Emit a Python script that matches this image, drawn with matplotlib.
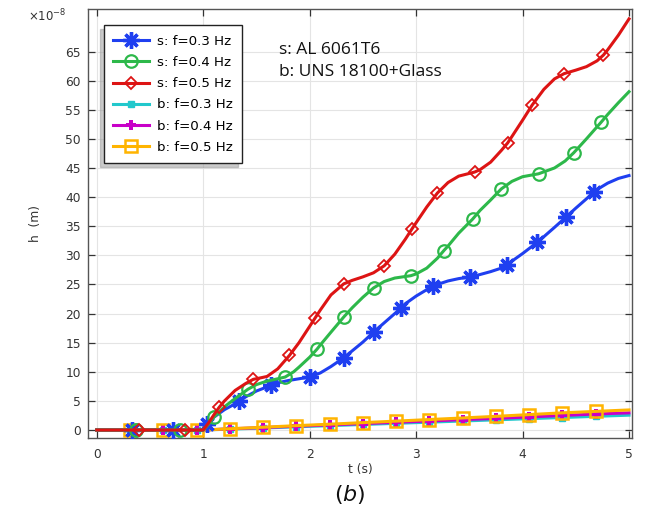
import numpy as np
import matplotlib
matplotlib.use("Agg")
import matplotlib.pyplot as plt

# ---------------- data (h in units of 1e-8 m) ----------------
t_s03 = [0, 0.33, 0.72, 1.0, 1.04, 1.1, 1.2, 1.3, 1.34, 1.4, 1.5, 1.6, 1.64, 1.7, 1.8, 1.9,
         2.0, 2.1, 2.2, 2.32, 2.4, 2.5, 2.6, 2.7, 2.8, 2.86, 2.9, 3.0, 3.1, 3.16, 3.2, 3.3,
         3.4, 3.51, 3.6, 3.7, 3.8, 3.85, 3.9, 4.0, 4.1, 4.14, 4.2, 4.3, 4.41, 4.5, 4.6,
         4.67, 4.7, 4.8, 4.9, 5.0]
h_s03 = [0, 0, 0, 0, 1.0, 2.2, 3.5, 4.5, 5.0, 5.7, 6.7, 7.4, 7.7, 8.1, 8.5, 8.8,
         9.1, 9.8, 10.9, 12.4, 13.6, 15.1, 16.8, 18.4, 20.0, 21.0, 21.7, 23.0, 24.1, 24.7, 25.0, 25.6,
         26.0, 26.3, 26.7, 27.2, 27.8, 28.3, 29.0, 30.3, 31.7, 32.3, 33.2, 34.8, 36.6, 38.1, 39.7,
         40.9, 41.3, 42.4, 43.2, 43.7]
m_s03 = [0.33, 0.72, 1.04, 1.34, 1.64, 2.0, 2.32, 2.6, 2.86, 3.16, 3.51, 3.85, 4.14, 4.41, 4.67]

t_s04 = [0, 0.37, 0.78, 1.0, 1.05, 1.1, 1.2, 1.3, 1.42, 1.5, 1.6, 1.7, 1.77, 1.85, 1.9,
         2.0, 2.07, 2.1, 2.2, 2.32, 2.4, 2.5, 2.6, 2.7, 2.8, 2.95, 3.0, 3.1, 3.2, 3.26, 3.3,
         3.4, 3.53, 3.6, 3.7, 3.8, 3.9, 4.0, 4.15, 4.3, 4.4, 4.48, 4.6, 4.74, 4.8, 4.9, 5.0]
h_s04 = [0, 0, 0, 0, 1.0, 2.2, 4.0, 5.4, 7.0, 7.8, 8.4, 8.8, 9.1, 10.0, 10.8,
         12.5, 13.9, 14.6, 16.8, 19.4, 21.0, 22.8, 24.4, 25.5, 26.1, 26.5, 26.8, 27.8, 29.5, 30.8, 31.6,
         33.8, 36.2, 37.7, 39.5, 41.4, 42.7, 43.5, 44.0, 45.0, 46.2, 47.6, 50.0, 52.9, 54.2, 56.2, 58.1]
m_s04 = [0.37, 0.78, 1.1, 1.42, 1.77, 2.07, 2.32, 2.6, 2.95, 3.26, 3.53, 3.8, 4.15, 4.48, 4.74]

t_s05 = [0, 0.4, 0.83, 1.0, 1.05, 1.1, 1.15, 1.2, 1.3, 1.4, 1.47, 1.55, 1.6, 1.7, 1.81, 1.9,
         2.0, 2.05, 2.1, 2.2, 2.32, 2.4, 2.5, 2.6, 2.7, 2.8, 2.9, 2.96, 3.0, 3.1, 3.2, 3.3,
         3.4, 3.55, 3.6, 3.7, 3.8, 3.86, 3.9, 4.0, 4.09, 4.2, 4.3, 4.39, 4.5, 4.6, 4.7,
         4.76, 4.8, 4.9, 5.0]
h_s05 = [0, 0, 0, 0, 1.2, 2.6, 3.9, 5.0, 6.8, 8.0, 8.7, 9.0, 9.2, 10.5, 12.8, 15.0,
         17.8, 19.2, 20.6, 23.2, 25.1, 25.7, 26.3, 27.0, 28.2, 30.2, 32.8, 34.5, 35.6, 38.3, 40.7, 42.5,
         43.6, 44.3, 44.7, 46.0, 48.0, 49.3, 50.4, 53.2, 55.8, 58.5, 60.3, 61.2, 61.8, 62.4, 63.4,
         64.4, 65.3, 67.8, 70.6]
m_s05 = [0.4, 0.83, 1.15, 1.47, 1.81, 2.05, 2.32, 2.7, 2.96, 3.2, 3.55, 3.86, 4.09, 4.39, 4.76]

t_b = [0, 0.3125, 0.625, 0.9375, 1.0, 1.25, 1.5625, 1.875, 2.1875, 2.5, 2.8125, 3.125,
       3.4375, 3.75, 4.0625, 4.375, 4.6875, 5.0]
m_b = [0.3125, 0.625, 0.9375, 1.25, 1.5625, 1.875, 2.1875, 2.5, 2.8125, 3.125,
       3.4375, 3.75, 4.0625, 4.375, 4.6875]
h_b03 = [0, 0, 0, 0, 0, 0.15, 0.35, 0.55, 0.75, 0.95, 1.15, 1.35, 1.55, 1.75, 1.95, 2.15, 2.35, 2.55]
h_b04 = [0, 0, 0, 0, 0, 0.2, 0.42, 0.65, 0.88, 1.1, 1.33, 1.55, 1.78, 2.0, 2.25, 2.5, 2.75, 2.95]
h_b05 = [0, 0, 0, 0, 0, 0.22, 0.48, 0.75, 1.0, 1.27, 1.53, 1.8, 2.07, 2.35, 2.65, 2.95, 3.2, 3.45]

labels = ["s: f=0.3 Hz", "s: f=0.4 Hz", "s: f=0.5 Hz",
          "b: f=0.3 Hz", "b: f=0.4 Hz", "b: f=0.5 Hz"]
x_ticks = [0, 1, 2, 3, 4, 5]
y_ticks = list(range(0, 70, 5))

# ---------------- figure ----------------
plt.rcParams['mathtext.fontset'] = 'dejavusans'
fig = plt.figure(figsize=(6.45, 5.12), dpi=100)
ax = fig.add_axes([88/645, 1-438/512, (632-88)/645, (438-9)/512])

def idx(t, m):
    return [i for i, v in enumerate(t) if any(abs(v - mm) < 1e-9 for mm in m)]

blue, green, red = '#1f3ff0', '#2db84a', '#dd1414'
cyan, magenta, yellow = '#22c8cc', '#c800c8', '#ffb400'

ax.plot(t_s03, h_s03, color=blue, lw=2.2, marker=(8, 2, 0), ms=12, mew=2.4,
        markevery=idx(t_s03, m_s03), label=labels[0], zorder=5)
ax.plot(t_s04, h_s04, color=green, lw=2.2, marker='o', ms=9, mew=1.6, mfc='none',
        markevery=idx(t_s04, m_s04), label=labels[1], zorder=5)
ax.plot(t_s05, h_s05, color=red, lw=2.2, marker='D', ms=6, mew=1.3, mfc='none',
        markevery=idx(t_s05, m_s05), label=labels[2], zorder=5)
ax.plot(t_b, h_b03, color=cyan, lw=2.2, marker='s', ms=4.5,
        markevery=idx(t_b, m_b), label=labels[3], zorder=4)
ax.plot(t_b, h_b04, color=magenta, lw=2.2, marker='P', ms=6.5, mew=0,
        markevery=idx(t_b, m_b), label=labels[4], zorder=4)
ax.plot(t_b, h_b05, color=yellow, lw=2.2, marker='s', ms=9, mew=1.8, mfc='none',
        markevery=idx(t_b, m_b), label=labels[5], zorder=4)

ax.set_xlim(-0.082, 5.028)
ax.set_ylim(-1.37, 72.3)
ax.set_xticks(x_ticks)
ax.set_yticks(y_ticks)
ax.tick_params(direction='in', length=5, width=0.9, colors='#333333',
               labelsize=8.8, top=True, right=True, labelcolor='#333333')
ax.tick_params(axis='x', pad=7)
ax.tick_params(axis='y', pad=5)
ax.grid(True, color='#e4e4e4', lw=0.8)
ax.set_axisbelow(True)
for s in ax.spines.values():
    s.set_color('#555555')
    s.set_linewidth(1.0)

ax.set_xlabel('t (s)', fontsize=8.8, color='#333333', labelpad=2)
ax.set_ylabel('h  (m)', fontsize=8.8, color='#333333', labelpad=17)

leg = ax.legend(loc='upper left', bbox_to_anchor=(0.029, 0.962), borderaxespad=0,
                fancybox=False, edgecolor='#222222', framealpha=1, fontsize=9.6,
                handlelength=2.7, handletextpad=0.6, labelspacing=0.62,
                borderpad=0.7, shadow={'ox': -3, 'oy': -3, 'shade': 0.4})
leg.get_frame().set_linewidth(1.0)

ax.text(0.352, 0.905, 's: AL 6061T6', transform=ax.transAxes, fontsize=12.5,
        family='Open Sans', color='#111111', va='center')
ax.text(0.352, 0.853, 'b: UNS 18100+Glass', transform=ax.transAxes, fontsize=12.5,
        family='Open Sans', color='#111111', va='center')

fig.text(28/645, 1-16/512, r'$\times10^{-8}$', fontsize=8.5, color='#333333', va='center')
fig.text(350/645, 1-494/512, r'$(b)$', fontsize=16, color='#111111', ha='center', va='center')

fig.savefig('out.png', dpi=100)
